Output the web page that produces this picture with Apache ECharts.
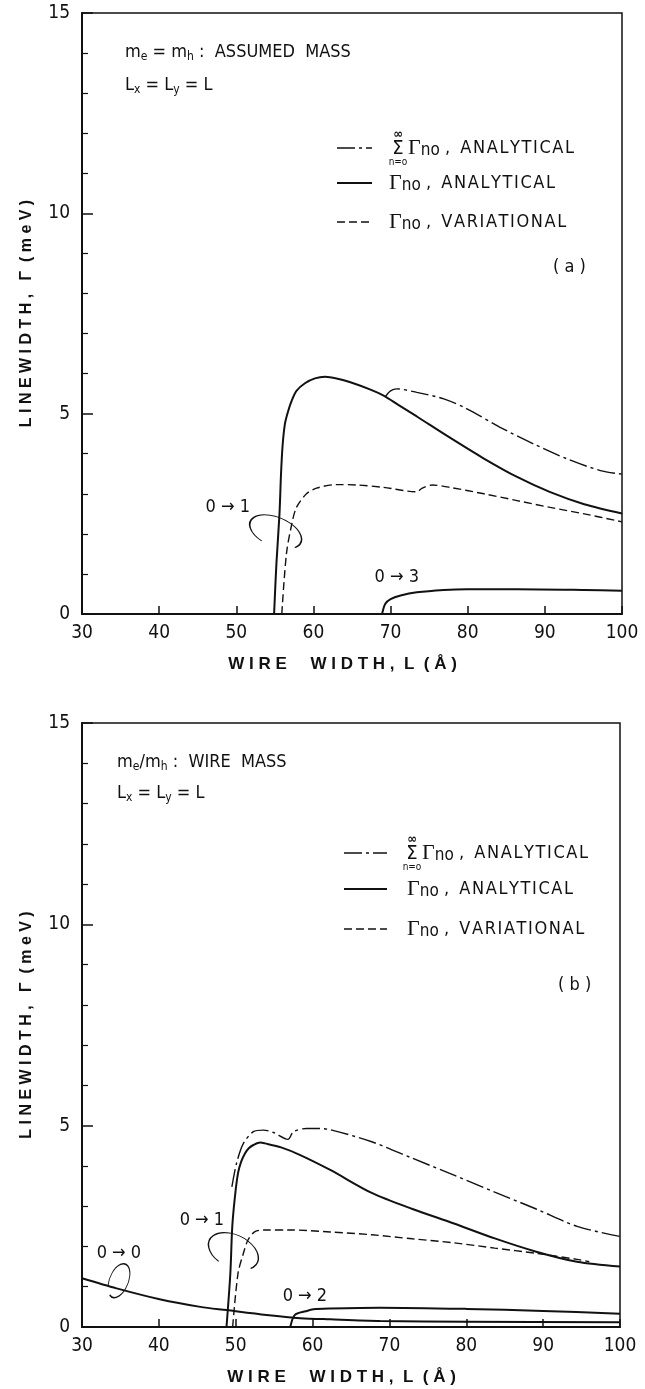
<!DOCTYPE html>
<html>
<head>
<meta charset="utf-8">
<script src="https://cdn.jsdelivr.net/npm/echarts@6/dist/echarts.min.js"></script>
<style>
html, body { margin: 0; padding: 0; background: #fff; }
#main { width: 645px; height: 1389px; }
</style>
</head>
<body>
<div id="main"></div>
<script>
// axis ranges (wire width in Å, linewidth in meV)
const xRange = [30, 100];
const yRange = [0, 15];

// panel (a): m_e = m_h, assumed mass  -> [L, Gamma]
const aSumAnalytical = [[69.3, 5.42], [70, 5.57], [70.8, 5.62], [73.4, 5.53], [76.9, 5.37], [79.9, 5.12],
  [84.2, 4.66], [88.6, 4.24], [92.9, 3.87], [97.2, 3.58], [100, 3.49]];
const aAnalytical01 = [[54.9, 0], [55.2, 1.25], [55.6, 2.5], [55.8, 3.5], [56.0, 4.2], [56.3, 4.74],
  [56.7, 5.05], [57.2, 5.33], [57.8, 5.57], [58.9, 5.76], [60.2, 5.88], [61.5, 5.92], [63, 5.88],
  [64.7, 5.79], [67.4, 5.6], [69.1, 5.45], [71, 5.22], [73.4, 4.93], [77.7, 4.4], [82.1, 3.88],
  [86.4, 3.42], [90.7, 3.04], [95.1, 2.74], [100, 2.51]];
const aVariational01 = [[55.9, 0], [56.5, 1.5], [57.2, 2.25], [57.8, 2.66], [59.1, 3.0], [60.4, 3.14],
  [63, 3.23], [65.6, 3.22], [69.1, 3.16], [73.4, 3.05], [74.1, 3.14], [75.4, 3.22], [77.7, 3.16],
  [82.1, 3.0], [86.4, 2.83], [90.7, 2.66], [95.1, 2.5], [100, 2.3]];
const aAnalytical03 = [[68.9, 0], [69.3, 0.25], [70, 0.37], [71.3, 0.46], [73.4, 0.54], [76.9, 0.6],
  [79.9, 0.62], [86.4, 0.62], [95.1, 0.6], [100, 0.58]];

// panel (b): m_e / m_h, wire mass
const bSumAnalytical = [[49.5, 3.48], [50.1, 4.06], [51.0, 4.56], [52.3, 4.85], [53.6, 4.89], [54.9, 4.83],
  [56.8, 4.66], [57.5, 4.85], [59.2, 4.93], [60.9, 4.93], [62.3, 4.9], [67.7, 4.6], [73, 4.19],
  [78.4, 3.77], [83.7, 3.35], [89.1, 2.93], [94.4, 2.5], [100, 2.25]];
const bAnalytical01 = [[48.8, 0], [49.3, 1.33], [49.55, 2.49], [49.9, 3.24], [50.3, 3.82], [50.7, 4.1],
  [51.2, 4.31], [51.7, 4.44], [52.3, 4.52], [53.2, 4.58], [53.8, 4.56], [55.9, 4.46], [58.4, 4.27],
  [62.3, 3.9], [67.7, 3.33], [73, 2.93], [78.4, 2.57], [83.7, 2.2], [89.1, 1.87], [94.4, 1.62], [100, 1.5]];
const bVariational01 = [[49.6, 0], [50.3, 1.33], [51.0, 1.83], [51.6, 2.16], [52.5, 2.37], [53.8, 2.41],
  [57, 2.41], [62.3, 2.36], [67.7, 2.29], [73, 2.19], [78.4, 2.09], [83.7, 1.96], [89.1, 1.83],
  [94.4, 1.68], [96, 1.62]];
const bAnalytical00 = [[30, 1.21], [34.5, 0.96], [40.1, 0.69], [45.4, 0.5], [48.8, 0.42], [54, 0.3],
  [58.4, 0.22], [62.3, 0.19], [68.8, 0.15], [80, 0.13], [100, 0.12]];
const bAnalytical02 = [[57.1, 0], [57.7, 0.3], [59.1, 0.39], [60.1, 0.44], [62.3, 0.46], [68.8, 0.48],
  [80, 0.45], [90, 0.4], [100, 0.33]];

// transition labels, [grid, L, Gamma, text]
const transLabels = [[0, 48.9, 2.65, '0 → 1'], [0, 70.8, 0.92, '0 → 3'],
  [1, 45.6, 2.66, '0 → 1'], [1, 34.8, 1.83, '0 → 0'], [1, 59.0, 0.75, '0 → 2']];
// ellipses grouping curves, [grid, L, Gamma]
const loopCenters = [[0, 55.1, 2.05], [1, 49.7, 1.88], [1, 34.8, 1.15]];

const FONT = "'Liberation Sans Narrow', 'DejaVu Sans Condensed', 'Liberation Sans', sans-serif";
const BOLD = "'Liberation Sans', 'DejaVu Sans', sans-serif";
const INK = '#111';
const HS = '\u200A';

function spaced(s) {
  return s.split('').join(HS);
}

let chart = echarts.init(document.getElementById('main'));

function xAxisFor(gi) {
  return {
    gridIndex: gi,
    type: 'value',
    min: xRange[0],
    max: xRange[1],
    interval: 10,
    name: 'W I R E     W I D T H ,  L  ( Å )    ',
    nameLocation: 'middle',
    nameGap: 42,
    nameTextStyle: { fontFamily: BOLD, fontWeight: 'bold', fontSize: 17, color: INK },
    axisLine: { lineStyle: { color: INK, width: 2 } },
    axisTick: { inside: true, length: 8, lineStyle: { color: INK, width: 1.5 } },
    axisLabel: { color: INK, fontSize: 19, fontFamily: FONT, margin: 10 },
    splitLine: { show: false }
  };
}

function yAxisFor(gi) {
  return {
    gridIndex: gi,
    type: 'value',
    min: yRange[0],
    max: yRange[1],
    interval: 5,
    name: 'L I N E W I D T H ,   Γ  ( m e V )',
    nameLocation: 'middle',
    nameRotate: 90,
    nameGap: 47,
    nameTextStyle: { fontFamily: BOLD, fontWeight: 'bold', fontSize: 16, color: INK },
    axisLine: { lineStyle: { color: INK, width: 2 } },
    axisTick: { inside: true, length: 11, lineStyle: { color: INK, width: 1.5 } },
    minorTick: { show: true, splitNumber: 5, length: 6, lineStyle: { color: INK, width: 1.2 } },
    axisLabel: { color: INK, fontSize: 19, fontFamily: FONT, margin: 12 },
    splitLine: { show: false }
  };
}

function curve(gi, data, kind) {
  let type = 'solid', width = 2;
  if (kind === 'dash') { type = [8, 4]; width = 1.4; }
  if (kind === 'dashdot') { type = [18, 4, 3, 4]; width = 1.4; }
  return {
    type: 'line',
    xAxisIndex: gi,
    yAxisIndex: gi,
    data: data,
    showSymbol: false,
    smooth: 0.3,
    silent: true,
    animation: false,
    lineStyle: { color: INK, width: width, type: type }
  };
}

let option = {
  backgroundColor: '#fff',
  animation: false,
  grid: [
    { left: 82, top: 13, width: 540, height: 601, show: true, borderColor: INK, borderWidth: 1.5, outerBoundsMode: 'none' },
    { left: 82, top: 723, width: 538, height: 604, show: true, borderColor: INK, borderWidth: 1.5, outerBoundsMode: 'none' }
  ],
  xAxis: [xAxisFor(0), xAxisFor(1)],
  yAxis: [yAxisFor(0), yAxisFor(1)],
  series: [
    curve(0, aSumAnalytical, 'dashdot'),
    curve(0, aAnalytical01, 'solid'),
    curve(0, aVariational01, 'dash'),
    curve(0, aAnalytical03, 'solid'),
    curve(1, bSumAnalytical, 'dashdot'),
    curve(1, bAnalytical01, 'solid'),
    curve(1, bVariational01, 'dash'),
    curve(1, bAnalytical00, 'solid'),
    curve(1, bAnalytical02, 'solid')
  ]
};
chart.setOption(option);

// ---- annotations -------------------------------------------------------
const richBase = {
  t: { fontFamily: FONT, fontSize: 18, color: INK, lineHeight: 22 },
  s: { fontFamily: FONT, fontSize: 12, color: INK, lineHeight: 10, verticalAlign: 'bottom' },
  g: { fontFamily: "'Liberation Serif', serif", fontSize: 22, color: INK, lineHeight: 22 },
  n: { fontFamily: FONT, fontSize: 17, color: INK, lineHeight: 14, verticalAlign: 'bottom' }
};

function note(x, y, text) {
  return {
    type: 'text', x: x, y: y, silent: true,
    style: { text: text, rich: richBase, fill: INK, font: '18px ' + FONT, verticalAlign: 'middle' }
  };
}

function legendLine(x1, x2, y, kind) {
  let dash = null;
  if (kind === 'dash') dash = [8, 4];
  if (kind === 'dashdot') dash = [18, 4, 3, 4];
  return {
    type: 'line', silent: true,
    shape: { x1: x1, y1: y, x2: x2, y2: y },
    style: { stroke: INK, lineWidth: kind === 'solid' ? 2 : 1.4, lineDash: dash }
  };
}

function legendBlock(lx1, lx2, tx, rows, sigmaX) {
  let els = [];
  els.push(legendLine(lx1, lx2, rows[0], 'dashdot'));
  els.push(legendLine(lx1, lx2, rows[1], 'solid'));
  els.push(legendLine(lx1, lx2, rows[2], 'dash'));
  els.push({ type: 'text', x: sigmaX + 7, y: rows[0] + 1, silent: true,
    style: { text: 'Σ', font: '20px ' + FONT, fill: INK, align: 'center', verticalAlign: 'middle' } });
  els.push({ type: 'text', x: sigmaX + 7, y: rows[0] - 13, silent: true,
    style: { text: '∞', font: 'bold 13px ' + FONT, fill: INK, align: 'center', verticalAlign: 'middle' } });
  els.push({ type: 'text', x: sigmaX + 7, y: rows[0] + 14, silent: true,
    style: { text: 'n=o', font: '10px ' + FONT, fill: INK, align: 'center', verticalAlign: 'middle' } });
  els.push(note(sigmaX + 17, rows[0], '{g|Γ}{n|no}{t| ,  ' + spaced('ANALYTICAL') + '}'));
  els.push(note(tx, rows[1], '{g|Γ}{n|no}{t| ,  ' + spaced('ANALYTICAL') + '}'));
  els.push(note(tx, rows[2], '{g|Γ}{n|no}{t| ,  ' + spaced('VARIATIONAL') + '}'));
  return els;
}

function loop(gi, c, rx, ry, rot, gap) {
  const p = chart.convertToPixel({ gridIndex: gi }, c);
  const g0 = gap[1] * Math.PI / 180;
  const g1 = (gap[0] + 360) * Math.PI / 180;
  return {
    type: 'arc', x: p[0], y: p[1], rotation: rot, scaleY: ry / rx, silent: true,
    shape: { cx: 0, cy: 0, r: rx, startAngle: g0, endAngle: g1, clockwise: true },
    style: { stroke: INK, lineWidth: 1.2, fill: null, strokeNoScale: true }
  };
}

let graphics = [];
// panel (a) notes
graphics.push(note(125, 52, '{t|m}{s|e}{t| = m}{s|h}{t| :  ASSUMED  MASS}'));
graphics.push(note(125, 85, '{t|L}{s|x}{t| = L}{s|y}{t| = L}'));
graphics.push(note(553, 267, '{t|( a )}'));
graphics = graphics.concat(legendBlock(337, 372, 389, [148, 183, 222], 391));
// panel (b) notes
graphics.push(note(117, 762, '{t|m}{s|e}{t|/m}{s|h}{t| :  WIRE  MASS}'));
graphics.push(note(117, 793, '{t|L}{s|x}{t| = L}{s|y}{t| = L}'));
graphics.push(note(558, 985, '{t|( b )}'));
graphics = graphics.concat(legendBlock(344, 387, 407, [853, 889, 929], 405));

transLabels.forEach(function (t) {
  const p = chart.convertToPixel({ gridIndex: t[0] }, [t[1], t[2]]);
  graphics.push({ type: 'text', x: p[0], y: p[1], silent: true,
    style: { text: t[3], font: '18px ' + FONT, fill: INK, align: 'center', verticalAlign: 'middle' } });
});

graphics.push(loop(loopCenters[0][0], [loopCenters[0][1], loopCenters[0][2]], 27.4, 14.6, -0.39, [30, 110]));
graphics.push(loop(loopCenters[1][0], [loopCenters[1][1], loopCenters[1][2]], 26.5, 16.4, -0.44, [30, 110]));
graphics.push(loop(loopCenters[2][0], [loopCenters[2][1], loopCenters[2][2]], 9.5, 17.8, -0.38, [110, 150]));

chart.setOption({ graphic: graphics });
</script>
</body>
</html>
